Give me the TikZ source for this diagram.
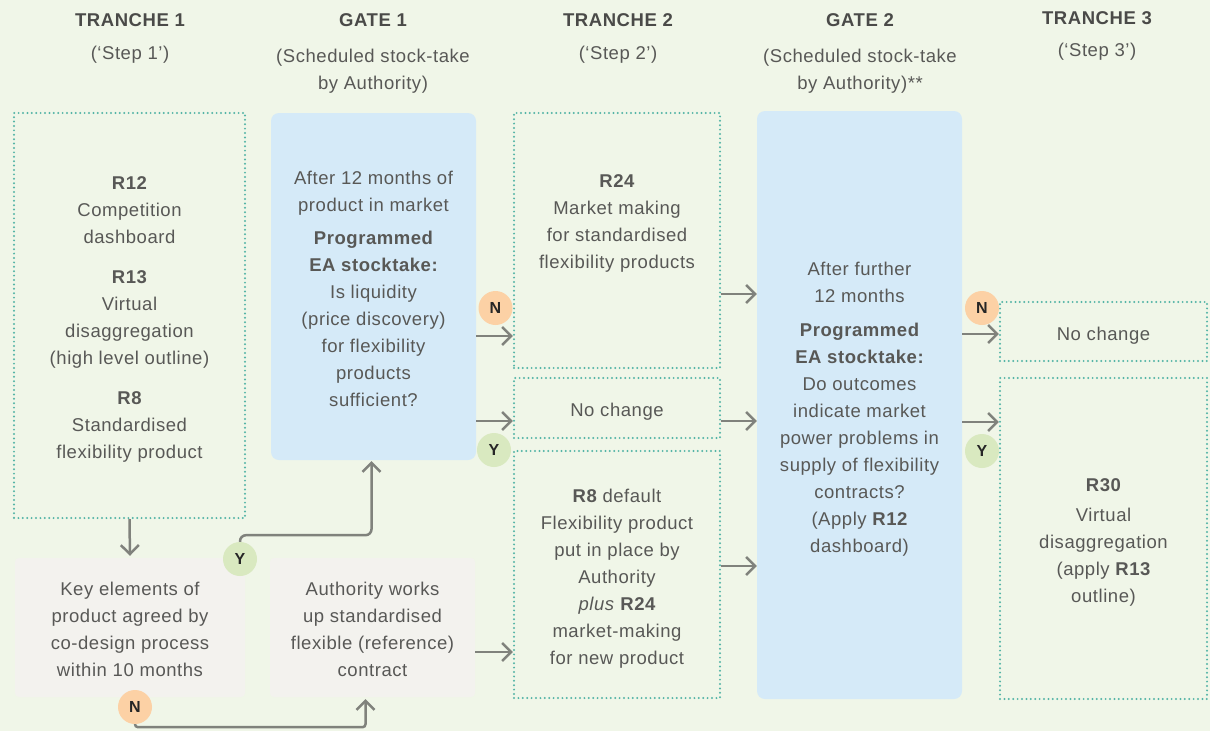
\documentclass[tikz,border=0pt]{standalone}
\usepackage{fontspec}
\setmainfont[LetterSpace=3]{Liberation Sans}
\usetikzlibrary{arrows.meta,calc}
\definecolor{pagebg}{RGB}{240,246,232}
\definecolor{gatefill}{RGB}{213,234,248}
\definecolor{greyfill}{RGB}{243,242,238}
\definecolor{dotline}{RGB}{84,180,166}
\definecolor{bodytext}{RGB}{88,88,86}
\definecolor{headtext}{RGB}{74,74,72}
\definecolor{arrowgrey}{RGB}{128,130,124}
\definecolor{nofill}{RGB}{252,209,165}
\definecolor{yesfill}{RGB}{217,233,192}
\begin{document}
\begin{tikzpicture}[x=1pt,y=-1pt,
  font=\fontsize{18.5}{27}\selectfont,
  every node/.style={text=bodytext},
  hdr/.style={font=\bfseries\fontsize{18.5}{27}\selectfont, text=headtext},
  body/.style={align=center, inner sep=0pt},
  tbox/.style={draw=dotline, line width=2.2pt, dash pattern=on 0pt off 4.4pt,
    line cap=round, inner sep=0pt},
  gatebox/.style={fill=gatefill, rounded corners=8pt, inner sep=0pt},
  greybox/.style={fill=greyfill, rounded corners=4pt, inner sep=0pt},
  arr/.style={draw=arrowgrey, line width=2.5pt,
    -{Straight Barb[length=9pt,width=18pt]}},
  badge/.style={circle, minimum size=34pt, inner sep=0pt,
    font=\bfseries\fontsize{16}{16}\selectfont, text=black!85},
  nobadge/.style={badge, fill=nofill},
  yesbadge/.style={badge, fill=yesfill},
]
% page
\fill[pagebg] (0,0) rectangle (1210,731);
\useasboundingbox (0,0) rectangle (1210,731);

% column headings
\node[hdr] (h1) at (130,20) {TRANCHE 1};
\node[body] (h1s) at (130,55) {(‘Step 1’)};
\node[hdr] (h2) at (373,20) {GATE 1};
\node[body] (h2s) at (373,71.5) {(Scheduled stock-take\\by Authority)};
\node[hdr] (h3) at (618,20) {TRANCHE 2};
\node[body] (h3s) at (618,55) {(‘Step 2’)};
\node[hdr] (h4) at (860,20) {GATE 2};
\node[body] (h4s) at (860,71.5) {(Scheduled stock-take\\by Authority)**};
\node[hdr] (h5) at (1097,18) {TRANCHE 3};
\node[body] (h5s) at (1097,52) {(‘Step 3’)};

% boxes
\node[tbox, minimum width=231pt, minimum height=405pt] (t1) at (129.5,315.5) {};
\node[greybox, minimum width=230pt, minimum height=139pt] (key) at (130,627.5) {};
\node[greybox, minimum width=205pt, minimum height=139pt] (auth) at (372.5,627.5) {};
\node[gatebox, minimum width=205pt, minimum height=347pt] (g1) at (373.5,286.5) {};
\node[tbox, minimum width=206pt, minimum height=255pt] (r24) at (617,240.5) {};
\node[tbox, minimum width=206pt, minimum height=60pt] (nc2) at (617,408) {};
\node[tbox, minimum width=206pt, minimum height=247pt] (r8) at (617,574.5) {};
\node[gatebox, minimum width=205pt, minimum height=588pt] (g2) at (859.5,405) {};
\node[tbox, minimum width=207pt, minimum height=59pt] (nc3) at (1103.5,331.5) {};
\node[tbox, minimum width=207pt, minimum height=321pt] (r30) at (1103.5,538.5) {};

% box texts
\node[body] (t1t) at ($(t1)+(0,3.5)$)
  {{\bfseries R12}\\Competition\\dashboard\\[13pt]{\bfseries R13}\\Virtual\\disaggregation\\(high level outline)\\[13pt]{\bfseries R8}\\Standardised\\flexibility product};
\node[body] (keyt) at ($(key)+(0,2)$)
  {Key elements of\\product agreed by\\co-design process\\within 10 months};
\node[body] (autht) at ($(auth)+(0,2)$)
  {Authority works\\up standardised\\flexible (reference)\\contract};
\node[body] (g1t) at ($(g1)+(0,2)$)
  {After 12 months of\\product in market\\[6pt]{\bfseries Programmed}\\{\bfseries EA stocktake:}\\Is liquidity\\(price discovery)\\for flexibility\\products\\sufficient?};
\node[body] (r24t) at (617,223.5)
  {{\bfseries R24}\\Market making\\for standardised\\flexibility products};
\node[body] (nc2t) at ($(nc2)+(0,4)$) {No change};
\node[body] (r8t) at ($(r8)+(0,4)$)
  {{\bfseries R8} default\\Flexibility product\\put in place by\\Authority\\\textit{plus} {\bfseries R24}\\market-making\\for new product};
\node[body] (g2t) at ($(g2)+(0,4)$)
  {After further\\12 months\\[7pt]{\bfseries Programmed}\\{\bfseries EA stocktake:}\\Do outcomes\\indicate market\\power problems in\\supply of flexibility\\contracts?\\(Apply {\bfseries R12}\\dashboard)};
\node[body] (nc3t) at ($(nc3)+(0,4)$) {No change};
\node[body] (r30t) at ($(r30)+(0,4)$)
  {{\bfseries R30}\\[3pt]Virtual\\disaggregation\\(apply {\bfseries R13}\\outline)};

% badge centres
\coordinate (ykeyc) at (240,559);
\coordinate (nkeyc) at (135,707);

% connectors
\draw[arr, shorten >=2pt] (t1.south) -- (key.north);
\draw[arr, rounded corners=6pt, shorten >=1pt]
  ($(ykeyc)+(0,-17)$) |- ($(g1.south)+(-2,75)$) -- ($(g1.south)+(-2,0)$);
\draw[arr, rounded corners=3pt, shorten >=2pt]
  ($(nkeyc)+(0,17)$) |- ($(auth.south)+(-7,30)$) -- ($(auth.south)+(-7,0)$);
\draw[arr] (auth.east |- 0,652) -- (r8.west |- 0,652);
\draw[arr] (g1.east |- 0,336) -- (r24.west |- 0,336);
\draw[arr] (g1.east |- 0,421) -- (nc2.west |- 0,421);
\draw[arr] (r24.east |- 0,294) -- (g2.west |- 0,294);
\draw[arr] (nc2.east |- 0,421) -- (g2.west |- 0,421);
\draw[arr] (r8.east |- 0,566) -- (g2.west |- 0,566);
\draw[arr] (g2.east |- 0,334) -- (nc3.west |- 0,334);
\draw[arr] (g2.east |- 0,422) -- (r30.west |- 0,422);

% yes/no badges, drawn over the connectors
\node[nobadge] (n1) at (495.5,308) {N};
\node[yesbadge] (y1) at (494,450) {Y};
\node[nobadge] (n2) at (982,308) {N};
\node[yesbadge] (y2) at (982,451) {Y};
\node[yesbadge] (ykey) at (ykeyc) {Y};
\node[nobadge] (nkey) at (nkeyc) {N};
\end{tikzpicture}
\end{document}
